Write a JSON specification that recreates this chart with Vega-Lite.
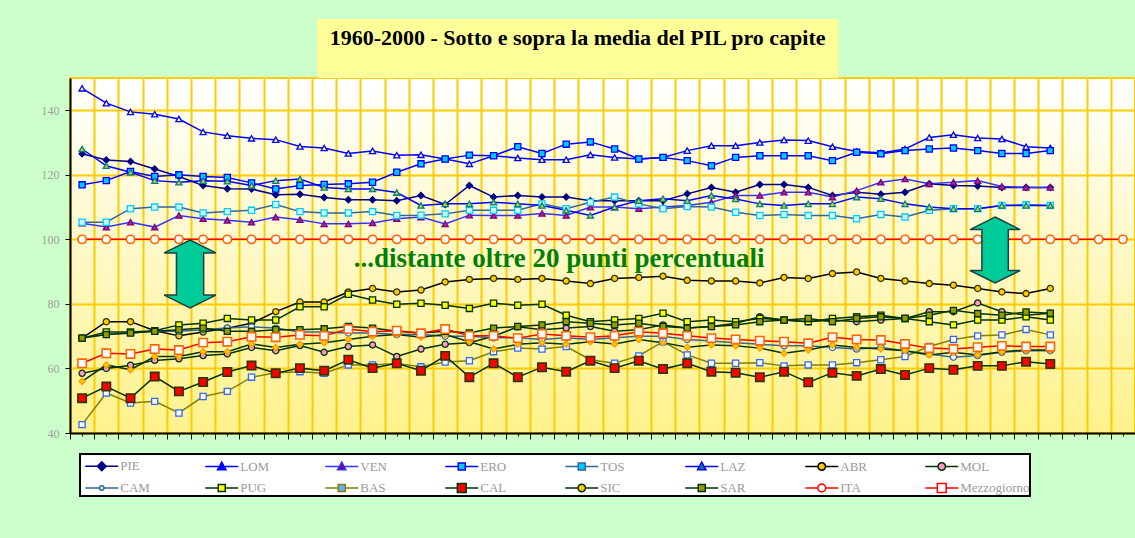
{
  "$schema": "https://vega.github.io/schema/vega-lite/v6.json",
  "width": 1065,
  "height": 355,
  "autosize": {"type": "none"},
  "padding": {"left": 70, "top": 78, "right": 0, "bottom": 105},
  "background": "#ccffcc",
  "view": {
    "fill": {"gradient": "linear", "x1": 0, "y1": 0, "x2": 0, "y2": 1, "stops": [{"offset": 0, "color": "#ffffff"}, {"offset": 1, "color": "#fff28c"}]},
    "stroke": "#ffcc00",
    "strokeWidth": 2
  },
  "config": {"font": "Liberation Serif"},
  "data": {"values": [
    {"regione":"PIE","anno":1960,"pil":126.5},{"regione":"PIE","anno":1961,"pil":124.6},{"regione":"PIE","anno":1962,"pil":124.1},{"regione":"PIE","anno":1963,"pil":121.8},{"regione":"PIE","anno":1964,"pil":119.5},{"regione":"PIE","anno":1965,"pil":116.7},{"regione":"PIE","anno":1966,"pil":115.7},{"regione":"PIE","anno":1967,"pil":115.6},{"regione":"PIE","anno":1968,"pil":113.8},{"regione":"PIE","anno":1969,"pil":114.0},{"regione":"PIE","anno":1970,"pil":113.0},{"regione":"PIE","anno":1971,"pil":112.3},{"regione":"PIE","anno":1972,"pil":112.3},{"regione":"PIE","anno":1973,"pil":112.0},{"regione":"PIE","anno":1974,"pil":113.6},{"regione":"PIE","anno":1975,"pil":110.8},{"regione":"PIE","anno":1976,"pil":116.7},{"regione":"PIE","anno":1977,"pil":113.1},{"regione":"PIE","anno":1978,"pil":113.6},{"regione":"PIE","anno":1979,"pil":113.1},{"regione":"PIE","anno":1980,"pil":113.1},{"regione":"PIE","anno":1981,"pil":112.0},{"regione":"PIE","anno":1982,"pil":112.0},{"regione":"PIE","anno":1983,"pil":112.0},{"regione":"PIE","anno":1984,"pil":112.0},{"regione":"PIE","anno":1985,"pil":114.1},{"regione":"PIE","anno":1986,"pil":116.1},{"regione":"PIE","anno":1987,"pil":114.6},{"regione":"PIE","anno":1988,"pil":117.0},{"regione":"PIE","anno":1989,"pil":117.0},{"regione":"PIE","anno":1990,"pil":116.1},{"regione":"PIE","anno":1991,"pil":113.6},{"regione":"PIE","anno":1992,"pil":114.6},{"regione":"PIE","anno":1993,"pil":114.0},{"regione":"PIE","anno":1994,"pil":114.6},{"regione":"PIE","anno":1995,"pil":117.2},{"regione":"PIE","anno":1996,"pil":116.7},{"regione":"PIE","anno":1997,"pil":116.5},{"regione":"PIE","anno":1998,"pil":116.1},{"regione":"PIE","anno":1999,"pil":116.1},{"regione":"PIE","anno":2000,"pil":116.1},
    {"regione":"LOM","anno":1960,"pil":146.8},{"regione":"LOM","anno":1961,"pil":142.2},{"regione":"LOM","anno":1962,"pil":139.5},{"regione":"LOM","anno":1963,"pil":138.8},{"regione":"LOM","anno":1964,"pil":137.3},{"regione":"LOM","anno":1965,"pil":133.3},{"regione":"LOM","anno":1966,"pil":132.1},{"regione":"LOM","anno":1967,"pil":131.3},{"regione":"LOM","anno":1968,"pil":130.9},{"regione":"LOM","anno":1969,"pil":128.8},{"regione":"LOM","anno":1970,"pil":128.3},{"regione":"LOM","anno":1971,"pil":126.6},{"regione":"LOM","anno":1972,"pil":127.4},{"regione":"LOM","anno":1973,"pil":126.1},{"regione":"LOM","anno":1974,"pil":126.2},{"regione":"LOM","anno":1975,"pil":124.9},{"regione":"LOM","anno":1976,"pil":123.4},{"regione":"LOM","anno":1977,"pil":125.9},{"regione":"LOM","anno":1978,"pil":125.2},{"regione":"LOM","anno":1979,"pil":124.7},{"regione":"LOM","anno":1980,"pil":124.7},{"regione":"LOM","anno":1981,"pil":126.2},{"regione":"LOM","anno":1982,"pil":125.4},{"regione":"LOM","anno":1983,"pil":124.9},{"regione":"LOM","anno":1984,"pil":125.4},{"regione":"LOM","anno":1985,"pil":127.5},{"regione":"LOM","anno":1986,"pil":129.0},{"regione":"LOM","anno":1987,"pil":129.0},{"regione":"LOM","anno":1988,"pil":130.0},{"regione":"LOM","anno":1989,"pil":130.8},{"regione":"LOM","anno":1990,"pil":130.6},{"regione":"LOM","anno":1991,"pil":128.7},{"regione":"LOM","anno":1992,"pil":127.2},{"regione":"LOM","anno":1993,"pil":126.8},{"regione":"LOM","anno":1994,"pil":128.0},{"regione":"LOM","anno":1995,"pil":131.6},{"regione":"LOM","anno":1996,"pil":132.4},{"regione":"LOM","anno":1997,"pil":131.4},{"regione":"LOM","anno":1998,"pil":131.1},{"regione":"LOM","anno":1999,"pil":128.7},{"regione":"LOM","anno":2000,"pil":128.3},
    {"regione":"VEN","anno":1960,"pil":105.0},{"regione":"VEN","anno":1961,"pil":103.8},{"regione":"VEN","anno":1962,"pil":105.3},{"regione":"VEN","anno":1963,"pil":103.8},{"regione":"VEN","anno":1964,"pil":107.4},{"regione":"VEN","anno":1965,"pil":106.4},{"regione":"VEN","anno":1966,"pil":105.9},{"regione":"VEN","anno":1967,"pil":105.3},{"regione":"VEN","anno":1968,"pil":106.9},{"regione":"VEN","anno":1969,"pil":106.1},{"regione":"VEN","anno":1970,"pil":104.8},{"regione":"VEN","anno":1971,"pil":104.8},{"regione":"VEN","anno":1972,"pil":105.1},{"regione":"VEN","anno":1973,"pil":106.4},{"regione":"VEN","anno":1974,"pil":106.9},{"regione":"VEN","anno":1975,"pil":104.8},{"regione":"VEN","anno":1976,"pil":107.5},{"regione":"VEN","anno":1977,"pil":107.4},{"regione":"VEN","anno":1978,"pil":107.4},{"regione":"VEN","anno":1979,"pil":108.0},{"regione":"VEN","anno":1980,"pil":107.4},{"regione":"VEN","anno":1981,"pil":110.0},{"regione":"VEN","anno":1982,"pil":110.0},{"regione":"VEN","anno":1983,"pil":109.5},{"regione":"VEN","anno":1984,"pil":110.0},{"regione":"VEN","anno":1985,"pil":110.5},{"regione":"VEN","anno":1986,"pil":111.5},{"regione":"VEN","anno":1987,"pil":113.6},{"regione":"VEN","anno":1988,"pil":113.6},{"regione":"VEN","anno":1989,"pil":114.6},{"regione":"VEN","anno":1990,"pil":114.6},{"regione":"VEN","anno":1991,"pil":113.1},{"regione":"VEN","anno":1992,"pil":115.1},{"regione":"VEN","anno":1993,"pil":117.7},{"regione":"VEN","anno":1994,"pil":118.7},{"regione":"VEN","anno":1995,"pil":117.2},{"regione":"VEN","anno":1996,"pil":117.7},{"regione":"VEN","anno":1997,"pil":118.2},{"regione":"VEN","anno":1998,"pil":116.4},{"regione":"VEN","anno":1999,"pil":116.1},{"regione":"VEN","anno":2000,"pil":116.1},
    {"regione":"ERO","anno":1960,"pil":116.9},{"regione":"ERO","anno":1961,"pil":118.2},{"regione":"ERO","anno":1962,"pil":121.0},{"regione":"ERO","anno":1963,"pil":119.5},{"regione":"ERO","anno":1964,"pil":120.0},{"regione":"ERO","anno":1965,"pil":119.5},{"regione":"ERO","anno":1966,"pil":119.2},{"regione":"ERO","anno":1967,"pil":117.5},{"regione":"ERO","anno":1968,"pil":115.6},{"regione":"ERO","anno":1969,"pil":116.7},{"regione":"ERO","anno":1970,"pil":117.0},{"regione":"ERO","anno":1971,"pil":117.2},{"regione":"ERO","anno":1972,"pil":117.7},{"regione":"ERO","anno":1973,"pil":120.8},{"regione":"ERO","anno":1974,"pil":123.4},{"regione":"ERO","anno":1975,"pil":124.9},{"regione":"ERO","anno":1976,"pil":126.1},{"regione":"ERO","anno":1977,"pil":125.9},{"regione":"ERO","anno":1978,"pil":128.7},{"regione":"ERO","anno":1979,"pil":126.6},{"regione":"ERO","anno":1980,"pil":129.5},{"regione":"ERO","anno":1981,"pil":130.2},{"regione":"ERO","anno":1982,"pil":128.0},{"regione":"ERO","anno":1983,"pil":124.9},{"regione":"ERO","anno":1984,"pil":125.4},{"regione":"ERO","anno":1985,"pil":124.4},{"regione":"ERO","anno":1986,"pil":122.8},{"regione":"ERO","anno":1987,"pil":125.4},{"regione":"ERO","anno":1988,"pil":125.9},{"regione":"ERO","anno":1989,"pil":125.9},{"regione":"ERO","anno":1990,"pil":125.9},{"regione":"ERO","anno":1991,"pil":124.4},{"regione":"ERO","anno":1992,"pil":127.0},{"regione":"ERO","anno":1993,"pil":126.5},{"regione":"ERO","anno":1994,"pil":127.5},{"regione":"ERO","anno":1995,"pil":128.0},{"regione":"ERO","anno":1996,"pil":128.3},{"regione":"ERO","anno":1997,"pil":127.5},{"regione":"ERO","anno":1998,"pil":126.6},{"regione":"ERO","anno":1999,"pil":126.6},{"regione":"ERO","anno":2000,"pil":127.5},
    {"regione":"TOS","anno":1960,"pil":105.3},{"regione":"TOS","anno":1961,"pil":105.3},{"regione":"TOS","anno":1962,"pil":109.5},{"regione":"TOS","anno":1963,"pil":110.0},{"regione":"TOS","anno":1964,"pil":110.0},{"regione":"TOS","anno":1965,"pil":108.2},{"regione":"TOS","anno":1966,"pil":108.6},{"regione":"TOS","anno":1967,"pil":109.0},{"regione":"TOS","anno":1968,"pil":110.8},{"regione":"TOS","anno":1969,"pil":108.6},{"regione":"TOS","anno":1970,"pil":108.2},{"regione":"TOS","anno":1971,"pil":108.2},{"regione":"TOS","anno":1972,"pil":108.6},{"regione":"TOS","anno":1973,"pil":107.4},{"regione":"TOS","anno":1974,"pil":107.5},{"regione":"TOS","anno":1975,"pil":107.9},{"regione":"TOS","anno":1976,"pil":109.0},{"regione":"TOS","anno":1977,"pil":109.0},{"regione":"TOS","anno":1978,"pil":109.0},{"regione":"TOS","anno":1979,"pil":111.0},{"regione":"TOS","anno":1980,"pil":109.5},{"regione":"TOS","anno":1981,"pil":111.5},{"regione":"TOS","anno":1982,"pil":113.1},{"regione":"TOS","anno":1983,"pil":111.0},{"regione":"TOS","anno":1984,"pil":109.5},{"regione":"TOS","anno":1985,"pil":110.2},{"regione":"TOS","anno":1986,"pil":110.0},{"regione":"TOS","anno":1987,"pil":108.4},{"regione":"TOS","anno":1988,"pil":107.4},{"regione":"TOS","anno":1989,"pil":107.7},{"regione":"TOS","anno":1990,"pil":107.4},{"regione":"TOS","anno":1991,"pil":107.4},{"regione":"TOS","anno":1992,"pil":106.4},{"regione":"TOS","anno":1993,"pil":107.7},{"regione":"TOS","anno":1994,"pil":106.9},{"regione":"TOS","anno":1995,"pil":109.0},{"regione":"TOS","anno":1996,"pil":109.5},{"regione":"TOS","anno":1997,"pil":109.5},{"regione":"TOS","anno":1998,"pil":110.5},{"regione":"TOS","anno":1999,"pil":110.7},{"regione":"TOS","anno":2000,"pil":110.5},
    {"regione":"LAZ","anno":1960,"pil":128.0},{"regione":"LAZ","anno":1961,"pil":122.8},{"regione":"LAZ","anno":1962,"pil":120.8},{"regione":"LAZ","anno":1963,"pil":118.2},{"regione":"LAZ","anno":1964,"pil":117.7},{"regione":"LAZ","anno":1965,"pil":118.2},{"regione":"LAZ","anno":1966,"pil":118.0},{"regione":"LAZ","anno":1967,"pil":116.7},{"regione":"LAZ","anno":1968,"pil":118.2},{"regione":"LAZ","anno":1969,"pil":118.7},{"regione":"LAZ","anno":1970,"pil":116.1},{"regione":"LAZ","anno":1971,"pil":115.6},{"regione":"LAZ","anno":1972,"pil":115.6},{"regione":"LAZ","anno":1973,"pil":114.5},{"regione":"LAZ","anno":1974,"pil":110.5},{"regione":"LAZ","anno":1975,"pil":111.0},{"regione":"LAZ","anno":1976,"pil":111.0},{"regione":"LAZ","anno":1977,"pil":111.5},{"regione":"LAZ","anno":1978,"pil":111.0},{"regione":"LAZ","anno":1979,"pil":110.5},{"regione":"LAZ","anno":1980,"pil":109.0},{"regione":"LAZ","anno":1981,"pil":107.4},{"regione":"LAZ","anno":1982,"pil":110.0},{"regione":"LAZ","anno":1983,"pil":112.0},{"regione":"LAZ","anno":1984,"pil":112.6},{"regione":"LAZ","anno":1985,"pil":112.0},{"regione":"LAZ","anno":1986,"pil":113.6},{"regione":"LAZ","anno":1987,"pil":112.5},{"regione":"LAZ","anno":1988,"pil":111.0},{"regione":"LAZ","anno":1989,"pil":110.5},{"regione":"LAZ","anno":1990,"pil":111.0},{"regione":"LAZ","anno":1991,"pil":111.0},{"regione":"LAZ","anno":1992,"pil":113.1},{"regione":"LAZ","anno":1993,"pil":112.6},{"regione":"LAZ","anno":1994,"pil":111.0},{"regione":"LAZ","anno":1995,"pil":110.0},{"regione":"LAZ","anno":1996,"pil":109.5},{"regione":"LAZ","anno":1997,"pil":109.5},{"regione":"LAZ","anno":1998,"pil":110.5},{"regione":"LAZ","anno":1999,"pil":110.5},{"regione":"LAZ","anno":2000,"pil":110.5},
    {"regione":"ABR","anno":1960,"pil":69.4},{"regione":"ABR","anno":1961,"pil":74.5},{"regione":"ABR","anno":1962,"pil":74.5},{"regione":"ABR","anno":1963,"pil":71.7},{"regione":"ABR","anno":1964,"pil":70.1},{"regione":"ABR","anno":1965,"pil":71.3},{"regione":"ABR","anno":1966,"pil":72.5},{"regione":"ABR","anno":1967,"pil":74.0},{"regione":"ABR","anno":1968,"pil":77.6},{"regione":"ABR","anno":1969,"pil":80.6},{"regione":"ABR","anno":1970,"pil":80.6},{"regione":"ABR","anno":1971,"pil":83.7},{"regione":"ABR","anno":1972,"pil":84.8},{"regione":"ABR","anno":1973,"pil":83.7},{"regione":"ABR","anno":1974,"pil":84.3},{"regione":"ABR","anno":1975,"pil":86.8},{"regione":"ABR","anno":1976,"pil":87.6},{"regione":"ABR","anno":1977,"pil":87.9},{"regione":"ABR","anno":1978,"pil":87.6},{"regione":"ABR","anno":1979,"pil":87.9},{"regione":"ABR","anno":1980,"pil":87.1},{"regione":"ABR","anno":1981,"pil":86.3},{"regione":"ABR","anno":1982,"pil":87.9},{"regione":"ABR","anno":1983,"pil":88.2},{"regione":"ABR","anno":1984,"pil":88.6},{"regione":"ABR","anno":1985,"pil":87.3},{"regione":"ABR","anno":1986,"pil":87.1},{"regione":"ABR","anno":1987,"pil":87.1},{"regione":"ABR","anno":1988,"pil":86.5},{"regione":"ABR","anno":1989,"pil":88.2},{"regione":"ABR","anno":1990,"pil":87.9},{"regione":"ABR","anno":1991,"pil":89.4},{"regione":"ABR","anno":1992,"pil":89.9},{"regione":"ABR","anno":1993,"pil":87.9},{"regione":"ABR","anno":1994,"pil":87.1},{"regione":"ABR","anno":1995,"pil":86.3},{"regione":"ABR","anno":1996,"pil":85.8},{"regione":"ABR","anno":1997,"pil":84.8},{"regione":"ABR","anno":1998,"pil":83.7},{"regione":"ABR","anno":1999,"pil":83.2},{"regione":"ABR","anno":2000,"pil":84.8},
    {"regione":"MOL","anno":1960,"pil":58.5},{"regione":"MOL","anno":1961,"pil":60.0},{"regione":"MOL","anno":1962,"pil":61.0},{"regione":"MOL","anno":1963,"pil":62.5},{"regione":"MOL","anno":1964,"pil":63.0},{"regione":"MOL","anno":1965,"pil":64.0},{"regione":"MOL","anno":1966,"pil":64.5},{"regione":"MOL","anno":1967,"pil":66.5},{"regione":"MOL","anno":1968,"pil":65.5},{"regione":"MOL","anno":1969,"pil":67.1},{"regione":"MOL","anno":1970,"pil":65.0},{"regione":"MOL","anno":1971,"pil":66.8},{"regione":"MOL","anno":1972,"pil":67.3},{"regione":"MOL","anno":1973,"pil":63.7},{"regione":"MOL","anno":1974,"pil":66.0},{"regione":"MOL","anno":1975,"pil":67.5},{"regione":"MOL","anno":1976,"pil":68.0},{"regione":"MOL","anno":1977,"pil":70.0},{"regione":"MOL","anno":1978,"pil":72.9},{"regione":"MOL","anno":1979,"pil":72.0},{"regione":"MOL","anno":1980,"pil":72.5},{"regione":"MOL","anno":1981,"pil":73.0},{"regione":"MOL","anno":1982,"pil":71.5},{"regione":"MOL","anno":1983,"pil":72.0},{"regione":"MOL","anno":1984,"pil":73.5},{"regione":"MOL","anno":1985,"pil":72.5},{"regione":"MOL","anno":1986,"pil":73.0},{"regione":"MOL","anno":1987,"pil":74.0},{"regione":"MOL","anno":1988,"pil":76.0},{"regione":"MOL","anno":1989,"pil":75.0},{"regione":"MOL","anno":1990,"pil":74.5},{"regione":"MOL","anno":1991,"pil":75.0},{"regione":"MOL","anno":1992,"pil":74.5},{"regione":"MOL","anno":1993,"pil":75.0},{"regione":"MOL","anno":1994,"pil":75.5},{"regione":"MOL","anno":1995,"pil":77.6},{"regione":"MOL","anno":1996,"pil":77.6},{"regione":"MOL","anno":1997,"pil":80.3},{"regione":"MOL","anno":1998,"pil":77.6},{"regione":"MOL","anno":1999,"pil":76.5},{"regione":"MOL","anno":2000,"pil":77.1},
    {"regione":"CAM","anno":1960,"pil":69.4},{"regione":"CAM","anno":1961,"pil":70.5},{"regione":"CAM","anno":1962,"pil":71.0},{"regione":"CAM","anno":1963,"pil":71.5},{"regione":"CAM","anno":1964,"pil":71.5},{"regione":"CAM","anno":1965,"pil":72.0},{"regione":"CAM","anno":1966,"pil":72.5},{"regione":"CAM","anno":1967,"pil":72.9},{"regione":"CAM","anno":1968,"pil":72.5},{"regione":"CAM","anno":1969,"pil":71.3},{"regione":"CAM","anno":1970,"pil":71.3},{"regione":"CAM","anno":1971,"pil":71.0},{"regione":"CAM","anno":1972,"pil":71.0},{"regione":"CAM","anno":1973,"pil":70.5},{"regione":"CAM","anno":1974,"pil":70.5},{"regione":"CAM","anno":1975,"pil":70.0},{"regione":"CAM","anno":1976,"pil":70.0},{"regione":"CAM","anno":1977,"pil":69.5},{"regione":"CAM","anno":1978,"pil":69.5},{"regione":"CAM","anno":1979,"pil":69.0},{"regione":"CAM","anno":1980,"pil":69.5},{"regione":"CAM","anno":1981,"pil":69.0},{"regione":"CAM","anno":1982,"pil":69.5},{"regione":"CAM","anno":1983,"pil":70.0},{"regione":"CAM","anno":1984,"pil":70.0},{"regione":"CAM","anno":1985,"pil":69.0},{"regione":"CAM","anno":1986,"pil":68.5},{"regione":"CAM","anno":1987,"pil":68.0},{"regione":"CAM","anno":1988,"pil":67.5},{"regione":"CAM","anno":1989,"pil":67.0},{"regione":"CAM","anno":1990,"pil":67.0},{"regione":"CAM","anno":1991,"pil":66.5},{"regione":"CAM","anno":1992,"pil":66.0},{"regione":"CAM","anno":1993,"pil":66.5},{"regione":"CAM","anno":1994,"pil":65.5},{"regione":"CAM","anno":1995,"pil":64.5},{"regione":"CAM","anno":1996,"pil":63.5},{"regione":"CAM","anno":1997,"pil":64.0},{"regione":"CAM","anno":1998,"pil":65.0},{"regione":"CAM","anno":1999,"pil":65.5},{"regione":"CAM","anno":2000,"pil":65.5},
    {"regione":"PUG","anno":1960,"pil":69.4},{"regione":"PUG","anno":1961,"pil":71.3},{"regione":"PUG","anno":1962,"pil":71.3},{"regione":"PUG","anno":1963,"pil":71.7},{"regione":"PUG","anno":1964,"pil":73.5},{"regione":"PUG","anno":1965,"pil":74.0},{"regione":"PUG","anno":1966,"pil":75.5},{"regione":"PUG","anno":1967,"pil":75.0},{"regione":"PUG","anno":1968,"pil":75.0},{"regione":"PUG","anno":1969,"pil":79.1},{"regione":"PUG","anno":1970,"pil":79.1},{"regione":"PUG","anno":1971,"pil":83.0},{"regione":"PUG","anno":1972,"pil":81.2},{"regione":"PUG","anno":1973,"pil":79.9},{"regione":"PUG","anno":1974,"pil":80.2},{"regione":"PUG","anno":1975,"pil":79.6},{"regione":"PUG","anno":1976,"pil":78.6},{"regione":"PUG","anno":1977,"pil":80.2},{"regione":"PUG","anno":1978,"pil":79.6},{"regione":"PUG","anno":1979,"pil":79.9},{"regione":"PUG","anno":1980,"pil":76.5},{"regione":"PUG","anno":1981,"pil":74.5},{"regione":"PUG","anno":1982,"pil":75.0},{"regione":"PUG","anno":1983,"pil":75.5},{"regione":"PUG","anno":1984,"pil":77.1},{"regione":"PUG","anno":1985,"pil":74.5},{"regione":"PUG","anno":1986,"pil":75.0},{"regione":"PUG","anno":1987,"pil":74.5},{"regione":"PUG","anno":1988,"pil":75.5},{"regione":"PUG","anno":1989,"pil":75.0},{"regione":"PUG","anno":1990,"pil":74.5},{"regione":"PUG","anno":1991,"pil":75.5},{"regione":"PUG","anno":1992,"pil":76.0},{"regione":"PUG","anno":1993,"pil":76.5},{"regione":"PUG","anno":1994,"pil":75.5},{"regione":"PUG","anno":1995,"pil":74.5},{"regione":"PUG","anno":1996,"pil":73.5},{"regione":"PUG","anno":1997,"pil":75.0},{"regione":"PUG","anno":1998,"pil":75.0},{"regione":"PUG","anno":1999,"pil":76.0},{"regione":"PUG","anno":2000,"pil":75.0},
    {"regione":"BAS","anno":1960,"pil":42.6},{"regione":"BAS","anno":1961,"pil":52.4},{"regione":"BAS","anno":1962,"pil":49.3},{"regione":"BAS","anno":1963,"pil":49.8},{"regione":"BAS","anno":1964,"pil":46.2},{"regione":"BAS","anno":1965,"pil":51.3},{"regione":"BAS","anno":1966,"pil":52.9},{"regione":"BAS","anno":1967,"pil":57.3},{"regione":"BAS","anno":1968,"pil":58.7},{"regione":"BAS","anno":1969,"pil":59.0},{"regione":"BAS","anno":1970,"pil":58.5},{"regione":"BAS","anno":1971,"pil":61.1},{"regione":"BAS","anno":1972,"pil":61.1},{"regione":"BAS","anno":1973,"pil":61.5},{"regione":"BAS","anno":1974,"pil":60.5},{"regione":"BAS","anno":1975,"pil":62.0},{"regione":"BAS","anno":1976,"pil":62.4},{"regione":"BAS","anno":1977,"pil":65.2},{"regione":"BAS","anno":1978,"pil":66.3},{"regione":"BAS","anno":1979,"pil":66.0},{"regione":"BAS","anno":1980,"pil":66.8},{"regione":"BAS","anno":1981,"pil":62.7},{"regione":"BAS","anno":1982,"pil":61.6},{"regione":"BAS","anno":1983,"pil":63.9},{"regione":"BAS","anno":1984,"pil":68.3},{"regione":"BAS","anno":1985,"pil":64.2},{"regione":"BAS","anno":1986,"pil":61.6},{"regione":"BAS","anno":1987,"pil":61.6},{"regione":"BAS","anno":1988,"pil":61.8},{"regione":"BAS","anno":1989,"pil":60.8},{"regione":"BAS","anno":1990,"pil":61.1},{"regione":"BAS","anno":1991,"pil":61.1},{"regione":"BAS","anno":1992,"pil":61.8},{"regione":"BAS","anno":1993,"pil":62.7},{"regione":"BAS","anno":1994,"pil":63.7},{"regione":"BAS","anno":1995,"pil":66.8},{"regione":"BAS","anno":1996,"pil":69.0},{"regione":"BAS","anno":1997,"pil":70.1},{"regione":"BAS","anno":1998,"pil":70.4},{"regione":"BAS","anno":1999,"pil":72.1},{"regione":"BAS","anno":2000,"pil":70.4},
    {"regione":"CAL","anno":1960,"pil":50.8},{"regione":"CAL","anno":1961,"pil":54.4},{"regione":"CAL","anno":1962,"pil":50.8},{"regione":"CAL","anno":1963,"pil":57.5},{"regione":"CAL","anno":1964,"pil":52.9},{"regione":"CAL","anno":1965,"pil":55.8},{"regione":"CAL","anno":1966,"pil":58.9},{"regione":"CAL","anno":1967,"pil":60.9},{"regione":"CAL","anno":1968,"pil":58.5},{"regione":"CAL","anno":1969,"pil":60.1},{"regione":"CAL","anno":1970,"pil":59.3},{"regione":"CAL","anno":1971,"pil":62.7},{"regione":"CAL","anno":1972,"pil":60.1},{"regione":"CAL","anno":1973,"pil":61.6},{"regione":"CAL","anno":1974,"pil":59.3},{"regione":"CAL","anno":1975,"pil":63.9},{"regione":"CAL","anno":1976,"pil":57.3},{"regione":"CAL","anno":1977,"pil":61.6},{"regione":"CAL","anno":1978,"pil":57.3},{"regione":"CAL","anno":1979,"pil":60.4},{"regione":"CAL","anno":1980,"pil":59.0},{"regione":"CAL","anno":1981,"pil":62.4},{"regione":"CAL","anno":1982,"pil":60.1},{"regione":"CAL","anno":1983,"pil":62.4},{"regione":"CAL","anno":1984,"pil":59.8},{"regione":"CAL","anno":1985,"pil":61.6},{"regione":"CAL","anno":1986,"pil":59.0},{"regione":"CAL","anno":1987,"pil":58.7},{"regione":"CAL","anno":1988,"pil":57.3},{"regione":"CAL","anno":1989,"pil":59.0},{"regione":"CAL","anno":1990,"pil":55.7},{"regione":"CAL","anno":1991,"pil":58.7},{"regione":"CAL","anno":1992,"pil":57.7},{"regione":"CAL","anno":1993,"pil":59.8},{"regione":"CAL","anno":1994,"pil":58.0},{"regione":"CAL","anno":1995,"pil":60.1},{"regione":"CAL","anno":1996,"pil":59.6},{"regione":"CAL","anno":1997,"pil":60.8},{"regione":"CAL","anno":1998,"pil":60.8},{"regione":"CAL","anno":1999,"pil":62.1},{"regione":"CAL","anno":2000,"pil":61.4},
    {"regione":"SIC","anno":1960,"pil":56.0},{"regione":"SIC","anno":1961,"pil":61.1},{"regione":"SIC","anno":1962,"pil":59.6},{"regione":"SIC","anno":1963,"pil":63.7},{"regione":"SIC","anno":1964,"pil":63.7},{"regione":"SIC","anno":1965,"pil":65.2},{"regione":"SIC","anno":1966,"pil":65.2},{"regione":"SIC","anno":1967,"pil":67.6},{"regione":"SIC","anno":1968,"pil":66.5},{"regione":"SIC","anno":1969,"pil":67.5},{"regione":"SIC","anno":1970,"pil":68.0},{"regione":"SIC","anno":1971,"pil":69.0},{"regione":"SIC","anno":1972,"pil":70.0},{"regione":"SIC","anno":1973,"pil":70.5},{"regione":"SIC","anno":1974,"pil":69.7},{"regione":"SIC","anno":1975,"pil":70.5},{"regione":"SIC","anno":1976,"pil":68.3},{"regione":"SIC","anno":1977,"pil":66.0},{"regione":"SIC","anno":1978,"pil":67.5},{"regione":"SIC","anno":1979,"pil":68.0},{"regione":"SIC","anno":1980,"pil":67.5},{"regione":"SIC","anno":1981,"pil":68.3},{"regione":"SIC","anno":1982,"pil":67.6},{"regione":"SIC","anno":1983,"pil":69.0},{"regione":"SIC","anno":1984,"pil":68.0},{"regione":"SIC","anno":1985,"pil":66.6},{"regione":"SIC","anno":1986,"pil":67.3},{"regione":"SIC","anno":1987,"pil":67.0},{"regione":"SIC","anno":1988,"pil":66.3},{"regione":"SIC","anno":1989,"pil":64.7},{"regione":"SIC","anno":1990,"pil":65.7},{"regione":"SIC","anno":1991,"pil":67.3},{"regione":"SIC","anno":1992,"pil":66.5},{"regione":"SIC","anno":1993,"pil":66.0},{"regione":"SIC","anno":1994,"pil":65.5},{"regione":"SIC","anno":1995,"pil":64.2},{"regione":"SIC","anno":1996,"pil":65.0},{"regione":"SIC","anno":1997,"pil":64.2},{"regione":"SIC","anno":1998,"pil":65.2},{"regione":"SIC","anno":1999,"pil":65.7},{"regione":"SIC","anno":2000,"pil":65.7},
    {"regione":"SAR","anno":1960,"pil":69.4},{"regione":"SAR","anno":1961,"pil":70.5},{"regione":"SAR","anno":1962,"pil":71.0},{"regione":"SAR","anno":1963,"pil":71.5},{"regione":"SAR","anno":1964,"pil":72.0},{"regione":"SAR","anno":1965,"pil":72.5},{"regione":"SAR","anno":1966,"pil":71.5},{"regione":"SAR","anno":1967,"pil":71.5},{"regione":"SAR","anno":1968,"pil":72.0},{"regione":"SAR","anno":1969,"pil":72.0},{"regione":"SAR","anno":1970,"pil":72.3},{"regione":"SAR","anno":1971,"pil":73.0},{"regione":"SAR","anno":1972,"pil":72.5},{"regione":"SAR","anno":1973,"pil":71.5},{"regione":"SAR","anno":1974,"pil":71.0},{"regione":"SAR","anno":1975,"pil":71.5},{"regione":"SAR","anno":1976,"pil":71.0},{"regione":"SAR","anno":1977,"pil":72.5},{"regione":"SAR","anno":1978,"pil":73.0},{"regione":"SAR","anno":1979,"pil":73.5},{"regione":"SAR","anno":1980,"pil":74.5},{"regione":"SAR","anno":1981,"pil":74.0},{"regione":"SAR","anno":1982,"pil":73.5},{"regione":"SAR","anno":1983,"pil":74.0},{"regione":"SAR","anno":1984,"pil":73.0},{"regione":"SAR","anno":1985,"pil":72.5},{"regione":"SAR","anno":1986,"pil":73.0},{"regione":"SAR","anno":1987,"pil":73.5},{"regione":"SAR","anno":1988,"pil":74.5},{"regione":"SAR","anno":1989,"pil":75.0},{"regione":"SAR","anno":1990,"pil":75.5},{"regione":"SAR","anno":1991,"pil":74.5},{"regione":"SAR","anno":1992,"pil":75.5},{"regione":"SAR","anno":1993,"pil":76.0},{"regione":"SAR","anno":1994,"pil":75.5},{"regione":"SAR","anno":1995,"pil":76.5},{"regione":"SAR","anno":1996,"pil":78.0},{"regione":"SAR","anno":1997,"pil":77.0},{"regione":"SAR","anno":1998,"pil":76.5},{"regione":"SAR","anno":1999,"pil":77.5},{"regione":"SAR","anno":2000,"pil":77.1},
    {"regione":"ITA","anno":1960,"pil":100},{"regione":"ITA","anno":1961,"pil":100},{"regione":"ITA","anno":1962,"pil":100},{"regione":"ITA","anno":1963,"pil":100},{"regione":"ITA","anno":1964,"pil":100},{"regione":"ITA","anno":1965,"pil":100},{"regione":"ITA","anno":1966,"pil":100},{"regione":"ITA","anno":1967,"pil":100},{"regione":"ITA","anno":1968,"pil":100},{"regione":"ITA","anno":1969,"pil":100},{"regione":"ITA","anno":1970,"pil":100},{"regione":"ITA","anno":1971,"pil":100},{"regione":"ITA","anno":1972,"pil":100},{"regione":"ITA","anno":1973,"pil":100},{"regione":"ITA","anno":1974,"pil":100},{"regione":"ITA","anno":1975,"pil":100},{"regione":"ITA","anno":1976,"pil":100},{"regione":"ITA","anno":1977,"pil":100},{"regione":"ITA","anno":1978,"pil":100},{"regione":"ITA","anno":1979,"pil":100},{"regione":"ITA","anno":1980,"pil":100},{"regione":"ITA","anno":1981,"pil":100},{"regione":"ITA","anno":1982,"pil":100},{"regione":"ITA","anno":1983,"pil":100},{"regione":"ITA","anno":1984,"pil":100},{"regione":"ITA","anno":1985,"pil":100},{"regione":"ITA","anno":1986,"pil":100},{"regione":"ITA","anno":1987,"pil":100},{"regione":"ITA","anno":1988,"pil":100},{"regione":"ITA","anno":1989,"pil":100},{"regione":"ITA","anno":1990,"pil":100},{"regione":"ITA","anno":1991,"pil":100},{"regione":"ITA","anno":1992,"pil":100},{"regione":"ITA","anno":1993,"pil":100},{"regione":"ITA","anno":1994,"pil":100},{"regione":"ITA","anno":1995,"pil":100},{"regione":"ITA","anno":1996,"pil":100},{"regione":"ITA","anno":1997,"pil":100},{"regione":"ITA","anno":1998,"pil":100},{"regione":"ITA","anno":1999,"pil":100},{"regione":"ITA","anno":2000,"pil":100},{"regione":"ITA","anno":2001,"pil":100},{"regione":"ITA","anno":2002,"pil":100},{"regione":"ITA","anno":2003,"pil":100},
    {"regione":"Mezzogiorno","anno":1960,"pil":61.6},{"regione":"Mezzogiorno","anno":1961,"pil":64.7},{"regione":"Mezzogiorno","anno":1962,"pil":64.5},{"regione":"Mezzogiorno","anno":1963,"pil":66.0},{"regione":"Mezzogiorno","anno":1964,"pil":65.7},{"regione":"Mezzogiorno","anno":1965,"pil":68.0},{"regione":"Mezzogiorno","anno":1966,"pil":68.3},{"regione":"Mezzogiorno","anno":1967,"pil":69.8},{"regione":"Mezzogiorno","anno":1968,"pil":69.7},{"regione":"Mezzogiorno","anno":1969,"pil":70.4},{"regione":"Mezzogiorno","anno":1970,"pil":70.1},{"regione":"Mezzogiorno","anno":1971,"pil":72.2},{"regione":"Mezzogiorno","anno":1972,"pil":71.4},{"regione":"Mezzogiorno","anno":1973,"pil":71.7},{"regione":"Mezzogiorno","anno":1974,"pil":70.9},{"regione":"Mezzogiorno","anno":1975,"pil":72.2},{"regione":"Mezzogiorno","anno":1976,"pil":70.1},{"regione":"Mezzogiorno","anno":1977,"pil":70.1},{"regione":"Mezzogiorno","anno":1978,"pil":69.4},{"regione":"Mezzogiorno","anno":1979,"pil":70.7},{"regione":"Mezzogiorno","anno":1980,"pil":70.1},{"regione":"Mezzogiorno","anno":1981,"pil":69.7},{"regione":"Mezzogiorno","anno":1982,"pil":70.1},{"regione":"Mezzogiorno","anno":1983,"pil":71.4},{"regione":"Mezzogiorno","anno":1984,"pil":70.9},{"regione":"Mezzogiorno","anno":1985,"pil":70.1},{"regione":"Mezzogiorno","anno":1986,"pil":69.4},{"regione":"Mezzogiorno","anno":1987,"pil":69.0},{"regione":"Mezzogiorno","anno":1988,"pil":68.6},{"regione":"Mezzogiorno","anno":1989,"pil":68.3},{"regione":"Mezzogiorno","anno":1990,"pil":67.8},{"regione":"Mezzogiorno","anno":1991,"pil":69.7},{"regione":"Mezzogiorno","anno":1992,"pil":69.0},{"regione":"Mezzogiorno","anno":1993,"pil":68.8},{"regione":"Mezzogiorno","anno":1994,"pil":67.6},{"regione":"Mezzogiorno","anno":1995,"pil":66.3},{"regione":"Mezzogiorno","anno":1996,"pil":66.0},{"regione":"Mezzogiorno","anno":1997,"pil":66.6},{"regione":"Mezzogiorno","anno":1998,"pil":67.0},{"regione":"Mezzogiorno","anno":1999,"pil":66.8},{"regione":"Mezzogiorno","anno":2000,"pil":66.8}
  ]},
  "resolve": {"scale": {"shape": "independent", "fill": "independent", "stroke": "independent"}},
  "layer": [
    {
      "data": {"values": [{}]},
      "mark": {"type": "rect", "fill": "#ffff99"},
      "encoding": {
        "x": {"datum": 1969.71, "type": "quantitative", "title": null, "scale": {"domain": [1959.5, 2003.5], "nice": false, "zero": false}},
        "x2": {"datum": 1991.24},
        "y": {"datum": 150, "type": "quantitative", "title": null, "scale": {"domain": [40, 150], "nice": false, "zero": false}},
        "y2": {"datum": 168.3}
      }
    },
    {
      "data": {"values": [{}]},
      "mark": {"type": "text", "text": "1960-2000 - Sotto e sopra la media del PIL pro capite", "font": "Liberation Serif", "fontWeight": "bold", "fontSize": 22, "align": "center", "baseline": "alphabetic", "color": "#000000"},
      "encoding": {
        "x": {"datum": 1980.47, "type": "quantitative", "title": null, "scale": {"domain": [1959.5, 2003.5], "nice": false, "zero": false}},
        "y": {"datum": 160.1, "type": "quantitative", "title": null, "scale": {"domain": [40, 150], "nice": false, "zero": false}}
      }
    },
    {
      "mark": {"type": "line", "strokeWidth": 1.5},
      "encoding": {
        "x": {
          "field": "anno", "type": "quantitative", "title": null,
          "scale": {"domain": [1959.5, 2003.5], "nice": false, "zero": false},
          "axis": {
            "title": null, "labels": false, "tickCount": 200,
            "values": [1959.5,1960,1960.5,1961,1961.5,1962,1962.5,1963,1963.5,1964,1964.5,1965,1965.5,1966,1966.5,1967,1967.5,1968,1968.5,1969,1969.5,1970,1970.5,1971,1971.5,1972,1972.5,1973,1973.5,1974,1974.5,1975,1975.5,1976,1976.5,1977,1977.5,1978,1978.5,1979,1979.5,1980,1980.5,1981,1981.5,1982,1982.5,1983,1983.5,1984,1984.5,1985,1985.5,1986,1986.5,1987,1987.5,1988,1988.5,1989,1989.5,1990,1990.5,1991,1991.5,1992,1992.5,1993,1993.5,1994,1994.5,1995,1995.5,1996,1996.5,1997,1997.5,1998,1998.5,1999,1999.5,2000,2000.5,2001,2001.5,2002,2002.5,2003,2003.5],
            "grid": true, "gridColor": "#ffcc00", "gridWidth": 2,
            "gridOpacity": {"condition": {"test": "datum.value % 1 !== 0", "value": 1}, "value": 0},
            "ticks": true, "tickColor": "#000000", "tickWidth": 1,
            "tickSize": {"condition": {"test": "datum.value % 1 !== 0", "value": 6}, "value": 3},
            "domain": true, "domainColor": "#000000", "domainWidth": 2
          }
        },
        "y": {
          "field": "pil", "type": "quantitative", "title": null,
          "scale": {"domain": [40, 150], "nice": false, "zero": false},
          "axis": {
            "title": null, "values": [40, 60, 80, 100, 120, 140], "tickCount": 20,
            "grid": true, "gridColor": "#ffcc00", "gridWidth": 2,
            "tickColor": "#000000", "tickSize": 5, "tickWidth": 1,
            "domainColor": "#000000", "domainWidth": 2,
            "labelFont": "Liberation Serif", "labelFontSize": 12, "labelColor": "#a0a0a0", "labelPadding": 6
          }
        },
        "color": {
          "field": "regione", "type": "nominal", "legend": null,
          "scale": {
            "domain": ["PIE","LOM","VEN","ERO","TOS","LAZ","ABR","MOL","CAM","PUG","BAS","CAL","SIC","SAR","ITA","Mezzogiorno"],
            "range": ["#000080","#0000ff","#3333ff","#0000ff","#336699","#0000ff","#000000","#003300","#336699","#003300","#808000","#003300","#003300","#003300","#ff0000","#ff0000"]
          }
        }
      }
    },
    {
      "transform": [{"filter": "datum.regione !== 'CAL' && datum.regione !== 'ITA' && datum.regione !== 'Mezzogiorno'"}],
      "mark": {"type": "point", "filled": true, "size": 38, "strokeWidth": 1.3, "opacity": 1},
      "encoding": {
        "x": {"field": "anno", "type": "quantitative", "title": null, "scale": {"domain": [1959.5, 2003.5], "nice": false, "zero": false}},
        "y": {"field": "pil", "type": "quantitative", "title": null, "scale": {"domain": [40, 150], "nice": false, "zero": false}},
        "shape": {"field": "regione", "type": "nominal", "legend": null, "scale": {
          "domain": ["PIE","LOM","VEN","ERO","TOS","LAZ","ABR","MOL","CAM","PUG","BAS","CAL","SIC","SAR","ITA","Mezzogiorno"],
          "range": ["diamond","triangle-up","triangle-up","square","square","triangle-up","circle","circle","circle","square","square","square","diamond","square","circle","square"]}},
        "fill": {"field": "regione", "type": "nominal", "legend": null, "scale": {
          "domain": ["PIE","LOM","VEN","ERO","TOS","LAZ","ABR","MOL","CAM","PUG","BAS","CAL","SIC","SAR","ITA","Mezzogiorno"],
          "range": ["#000080","#ffff66","#993399","#00ccff","#ccffff","#cccc33","#ffcc00","#ff99cc","#ffffff","#ffff00","#ffffff","#ff0000","#ffcc00","#999900","#ffffff","#ffffff"]}},
        "stroke": {"field": "regione", "type": "nominal", "legend": null, "scale": {
          "domain": ["PIE","LOM","VEN","ERO","TOS","LAZ","ABR","MOL","CAM","PUG","BAS","CAL","SIC","SAR","ITA","Mezzogiorno"],
          "range": ["#000080","#0000ff","#800080","#0000ff","#00ccff","#008080","#333300","#003300","#336699","#003300","#3366ff","#333300","#ff9900","#003300","#ff6600","#ff6600"]}}
      }
    },
    {
      "transform": [{"filter": "datum.regione === 'CAL' || datum.regione === 'ITA' || datum.regione === 'Mezzogiorno'"}],
      "mark": {"type": "point", "filled": true, "size": 70, "strokeWidth": 1.6, "opacity": 1},
      "encoding": {
        "x": {"field": "anno", "type": "quantitative", "title": null, "scale": {"domain": [1959.5, 2003.5], "nice": false, "zero": false}},
        "y": {"field": "pil", "type": "quantitative", "title": null, "scale": {"domain": [40, 150], "nice": false, "zero": false}},
        "shape": {"field": "regione", "type": "nominal", "legend": null, "scale": {
          "domain": ["CAL","ITA","Mezzogiorno"], "range": ["square","circle","square"]}},
        "fill": {"field": "regione", "type": "nominal", "legend": null, "scale": {
          "domain": ["CAL","ITA","Mezzogiorno"], "range": ["#ff0000","#ffffff","#ffffff"]}},
        "stroke": {"field": "regione", "type": "nominal", "legend": null, "scale": {
          "domain": ["CAL","ITA","Mezzogiorno"], "range": ["#333300","#ff6600","#ff6600"]}}
      }
    },
    {
      "transform": [{"filter": "datum.anno === 1960"}],
      "mark": {"type": "point", "filled": true, "opacity": 0},
      "encoding": {
        "x": {"field": "anno", "type": "quantitative", "title": null, "scale": {"domain": [1959.5, 2003.5], "nice": false, "zero": false}},
        "y": {"field": "pil", "type": "quantitative", "title": null, "scale": {"domain": [40, 150], "nice": false, "zero": false}},
        "shape": {"field": "regione", "type": "nominal",
          "scale": {
            "domain": ["PIE","LOM","VEN","ERO","TOS","LAZ","ABR","MOL","CAM","PUG","BAS","CAL","SIC","SAR","ITA","Mezzogiorno"],
            "range": [
              "M-1.5,0H-0.4M0.4,0H1.5M0,-0.4L0.4,0L0,0.4L-0.4,0Z",
              "M-1.5,0H-0.3M0.3,0H1.5M0,-0.4L0.38,0.3L-0.38,0.3Z",
              "M-1.5,0H-0.3M0.3,0H1.5M0,-0.4L0.38,0.3L-0.38,0.3Z",
              "M-1.5,0H-0.32M0.32,0H1.5M-0.32,-0.32H0.32V0.32H-0.32Z",
              "M-1.5,0H-0.32M0.32,0H1.5M-0.32,-0.32H0.32V0.32H-0.32Z",
              "M-1.5,0H-0.3M0.3,0H1.5M0,-0.4L0.38,0.3L-0.38,0.3Z",
              "M-1.5,0H-0.34M0.34,0H1.5M0.34,0A0.34,0.34,0,1,1,-0.34,0A0.34,0.34,0,1,1,0.34,0Z",
              "M-1.5,0H-0.34M0.34,0H1.5M0.34,0A0.34,0.34,0,1,1,-0.34,0A0.34,0.34,0,1,1,0.34,0Z",
              "M-1.5,0H-0.2M0.2,0H1.5M0.2,0A0.2,0.2,0,1,1,-0.2,0A0.2,0.2,0,1,1,0.2,0Z",
              "M-1.5,0H-0.32M0.32,0H1.5M-0.32,-0.32H0.32V0.32H-0.32Z",
              "M-1.5,0H-0.32M0.32,0H1.5M-0.32,-0.32H0.32V0.32H-0.32Z",
              "M-1.5,0H-0.4M0.4,0H1.5M-0.4,-0.4H0.4V0.4H-0.4Z",
              "M-1.5,0H-0.34M0.34,0H1.5M0.34,0A0.34,0.34,0,1,1,-0.34,0A0.34,0.34,0,1,1,0.34,0Z",
              "M-1.5,0H-0.32M0.32,0H1.5M-0.32,-0.32H0.32V0.32H-0.32Z",
              "M-1.5,0H-0.36M0.36,0H1.5M0.36,0A0.36,0.36,0,1,1,-0.36,0A0.36,0.36,0,1,1,0.36,0Z",
              "M-1.5,0H-0.4M0.4,0H1.5M-0.4,-0.4H0.4V0.4H-0.4Z"
            ]
          },
          "legend": {"title": null, "orient": "none", "legendX": 10, "legendY": 376, "direction": "horizontal", "columns": 8, "gridAlign": "all", "columnPadding": 10, "rowPadding": 2, "padding": 0, "symbolSize": 484, "symbolStrokeWidth": 1.5, "symbolOffset": 9.75, "labelOffset": 6.5, "labelFont": "Liberation Serif", "labelFontSize": 13, "labelColor": "#9a9a9a", "fillColor": "#ffffff", "strokeColor": "#000000", "symbolOpacity": 1, "encode": {"legend": {"update": {"strokeWidth": {"value": 2}}}}}
        },
        "fill": {"field": "regione", "type": "nominal",
          "scale": {
            "domain": ["PIE","LOM","VEN","ERO","TOS","LAZ","ABR","MOL","CAM","PUG","BAS","CAL","SIC","SAR","ITA","Mezzogiorno"],
            "range": ["#000080","#0000ff","#800080","#00ccff","#00ccff","#008080","#ffcc00","#ff99cc","#ccffff","#ffff00","#66aaff","#ff0000","#ffcc00","#999900","#ffffff","#ffffff"]
          },
          "legend": {"title": null, "orient": "none", "legendX": 10, "legendY": 376, "direction": "horizontal", "columns": 8, "gridAlign": "all", "columnPadding": 10, "rowPadding": 2, "padding": 0, "symbolSize": 484, "symbolStrokeWidth": 1.5, "symbolOffset": 9.75, "labelOffset": 6.5, "labelFont": "Liberation Serif", "labelFontSize": 13, "labelColor": "#9a9a9a", "fillColor": "#ffffff", "strokeColor": "#000000", "symbolOpacity": 1, "encode": {"legend": {"update": {"strokeWidth": {"value": 2}}}}}
        },
        "stroke": {"field": "regione", "type": "nominal",
          "scale": {
            "domain": ["PIE","LOM","VEN","ERO","TOS","LAZ","ABR","MOL","CAM","PUG","BAS","CAL","SIC","SAR","ITA","Mezzogiorno"],
            "range": ["#000080","#0000ff","#3333ff","#0000ff","#336699","#0000ff","#000000","#003300","#336699","#003300","#808000","#003300","#003300","#003300","#ff0000","#ff0000"]
          },
          "legend": {"title": null, "orient": "none", "legendX": 10, "legendY": 376, "direction": "horizontal", "columns": 8, "gridAlign": "all", "columnPadding": 10, "rowPadding": 2, "padding": 0, "symbolSize": 484, "symbolStrokeWidth": 1.5, "symbolOffset": 9.75, "labelOffset": 6.5, "labelFont": "Liberation Serif", "labelFontSize": 13, "labelColor": "#9a9a9a", "fillColor": "#ffffff", "strokeColor": "#000000", "symbolOpacity": 1, "encode": {"legend": {"update": {"strokeWidth": {"value": 2}}}}}
        }
      }
    },
    {
      "data": {"values": [{}]},
      "mark": {"type": "text", "text": "...distante oltre 20 punti percentuali", "font": "Liberation Serif", "fontWeight": "bold", "fontSize": 27, "align": "center", "baseline": "alphabetic", "color": "#008000"},
      "encoding": {
        "x": {"datum": 1979.71, "type": "quantitative", "title": null, "scale": {"domain": [1959.5, 2003.5], "nice": false, "zero": false}},
        "y": {"datum": 91.4, "type": "quantitative", "title": null, "scale": {"domain": [40, 150], "nice": false, "zero": false}}
      }
    },
    {
      "data": {"values": [{}]},
      "mark": {"type": "point", "shape": "M0,-1L0.76,-0.62L0.4,-0.62L0.4,0.62L0.76,0.62L0,1L-0.76,0.62L-0.4,0.62L-0.4,-0.62L-0.76,-0.62Z", "size": 4624, "filled": true, "fill": "#00cc99", "stroke": "#1f3f3f", "strokeWidth": 1.5, "opacity": 1},
      "encoding": {
        "x": {"datum": 1964.46, "type": "quantitative", "title": null, "scale": {"domain": [1959.5, 2003.5], "nice": false, "zero": false}},
        "y": {"datum": 89.26, "type": "quantitative", "title": null, "scale": {"domain": [40, 150], "nice": false, "zero": false}}
      }
    },
    {
      "data": {"values": [{}]},
      "mark": {"type": "point", "shape": "M0,-1L0.76,-0.62L0.4,-0.62L0.4,0.62L0.76,0.62L0,1L-0.76,0.62L-0.4,0.62L-0.4,-0.62L-0.76,-0.62Z", "size": 4356, "filled": true, "fill": "#00cc99", "stroke": "#1f3f3f", "strokeWidth": 1.5, "opacity": 1},
      "encoding": {
        "x": {"datum": 1997.72, "type": "quantitative", "title": null, "scale": {"domain": [1959.5, 2003.5], "nice": false, "zero": false}},
        "y": {"datum": 96.7, "type": "quantitative", "title": null, "scale": {"domain": [40, 150], "nice": false, "zero": false}}
      }
    }
  ]
}
